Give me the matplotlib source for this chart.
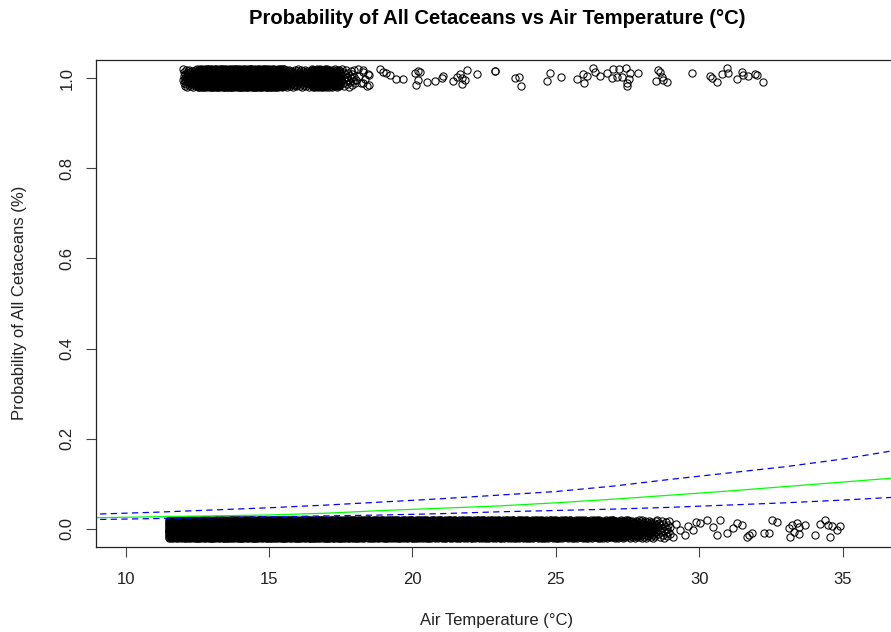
import numpy as np
import matplotlib.pyplot as plt

plt.rcParams['font.family'] = ['Liberation Sans', 'DejaVu Sans']

# Fitted curve and confidence band
curve_temp = [8, 9, 11, 13, 15, 17, 19, 21, 23, 25, 27, 29, 31, 33, 35, 37, 38]
prob_fit = [0.024, 0.025, 0.027, 0.029, 0.031, 0.035, 0.041, 0.046, 0.051,
            0.058, 0.066, 0.075, 0.084, 0.094, 0.104, 0.114, 0.119]
prob_upper = [0.031, 0.033, 0.037, 0.042, 0.047, 0.053, 0.060, 0.067, 0.075,
              0.083, 0.095, 0.110, 0.124, 0.138, 0.155, 0.176, 0.186]
prob_lower = [0.020, 0.021, 0.023, 0.025, 0.027, 0.029, 0.031, 0.034, 0.038,
              0.041, 0.044, 0.048, 0.053, 0.058, 0.064, 0.071, 0.075]

# Dense part of the observations: number of records per 0.5 degC bin
pres_bin_start = [12.0, 12.5, 13.0, 13.5, 14.0, 14.5, 15.0, 15.5, 16.0, 16.5, 17.0, 17.5, 18.0]
pres_bin_count = [50, 260, 280, 280, 280, 280, 240, 55, 45, 160, 90, 25, 8]

abs_bin_start = [11.5, 12.0, 12.5, 13.0, 13.5, 14.0, 14.5, 15.0, 15.5, 16.0, 16.5, 17.0,
                 17.5, 18.0, 18.5, 19.0, 19.5, 20.0, 20.5, 21.0, 21.5, 22.0, 22.5, 23.0,
                 23.5, 24.0, 24.5, 25.0, 25.5, 26.0, 26.5, 27.0, 27.5, 28.0, 28.5]
abs_bin_count = [240, 280, 280, 280, 280, 280, 280, 280, 280, 280, 280, 280,
                 260, 240, 230, 230, 220, 220, 210, 200, 200, 190, 190, 180,
                 170, 160, 160, 150, 140, 130, 120, 100, 70, 45, 25]

# Sparse observations (temperature, jittered response)
pres_temp = [18.28, 18.49, 18.28, 18.49, 18.87, 18.97, 19.08, 19.22, 19.43, 19.67,
             20.09, 20.19, 20.26, 20.13, 20.19, 20.51, 20.79, 21.03, 21.07, 21.42,
             21.56, 21.66, 21.73, 21.91, 21.84, 21.73, 22.26, 22.88, 22.88, 23.58,
             23.72, 23.79, 24.80, 24.70, 25.19, 25.75, 25.96, 25.99, 26.10, 26.31,
             26.38, 26.55, 26.79, 26.97, 27.00, 27.14, 27.21, 27.31, 27.45, 27.49,
             27.49, 27.59, 27.56, 27.87, 28.57, 28.64, 28.71, 28.50, 28.74, 28.88,
             29.75, 30.38, 30.45, 30.62, 30.80, 30.97, 31.01, 31.32, 31.50, 31.53,
             31.71, 31.95, 32.02, 32.23]
pres_resp = [1.018, 1.007, 0.989, 0.984, 1.020, 1.013, 1.011, 1.007, 0.998, 0.998,
             1.011, 1.016, 1.013, 0.984, 0.996, 0.991, 0.993, 1.000, 1.004, 0.993,
             1.002, 1.009, 1.000, 1.018, 0.996, 0.987, 1.009, 1.016, 1.015, 1.000,
             1.002, 0.982, 1.011, 0.993, 1.002, 0.998, 1.009, 0.989, 1.004, 1.022,
             1.013, 1.004, 1.011, 1.000, 1.020, 1.002, 1.020, 1.002, 1.022, 0.989,
             0.982, 1.011, 0.998, 1.011, 1.018, 1.013, 1.002, 0.993, 0.996, 0.991,
             1.011, 1.004, 1.000, 0.991, 1.009, 1.022, 1.011, 0.998, 1.013, 1.007,
             1.004, 1.009, 1.007, 0.991]

abs_temp = [29.08, 29.20, 29.33, 29.50, 29.62, 29.78, 29.90, 30.03, 30.27, 30.48,
            30.73, 30.62, 30.97, 31.18, 31.32, 31.50, 31.67, 31.74, 31.85, 32.27,
            32.44, 32.54, 32.72, 33.14, 33.24, 33.31, 33.42, 33.49, 33.17, 33.49,
            33.70, 34.05, 34.22, 34.39, 34.50, 34.64, 34.81, 34.92, 34.57]
abs_resp = [-0.018, 0.010, -0.002, -0.013, 0.006, -0.002, 0.015, 0.013, 0.020, 0.004,
            0.020, -0.013, -0.009, 0.002, 0.013, 0.009, -0.018, -0.013, -0.009, -0.009,
            -0.009, 0.020, 0.016, 0.002, 0.009, -0.007, 0.013, 0.004, -0.018, -0.011,
            0.009, -0.013, 0.011, 0.020, 0.009, 0.007, -0.002, 0.007, -0.018]


def spread(starts, counts, level):
    # lay the binned records out across each bin, jittered around 0 or 1
    xs, ys = [], []
    for b, n in zip(starts, counts):
        k = np.arange(n)
        xs.append(b + 0.5 * (k + 0.5) / n)
        ys.append(level + 0.04 * ((k * 0.618034 + 0.37) % 1.0) - 0.02)
    return np.concatenate(xs), np.concatenate(ys)


px, py = spread(pres_bin_start, pres_bin_count, 1.0)
ax_, ay_ = spread(abs_bin_start, abs_bin_count, 0.0)

fig = plt.figure(figsize=(8.91, 6.32), dpi=100)
ax = fig.add_axes([95.5 / 891, 85 / 632, (899 - 95.5) / 891, (547 - 60) / 632])

mk = dict(linestyle='none', marker='o', markersize=5.2, markerfacecolor='none',
          markeredgecolor='black', markeredgewidth=0.75)
ax.plot(ax_, ay_, **mk)
ax.plot(px, py, **mk)
ax.plot(abs_temp, abs_resp, **mk)
ax.plot(pres_temp, pres_resp, **mk)

ax.plot(curve_temp, prob_fit, color='#00ff00', lw=0.9)
ax.plot(curve_temp, prob_upper, color='#0000ff', lw=0.9, linestyle=(0, (5, 3.5)))
ax.plot(curve_temp, prob_lower, color='#0000ff', lw=0.9, linestyle=(0, (5, 3.5)))

ax.set_xlim(8.95, 36.97)
ax.set_ylim(-0.04, 1.04)
ax.set_xticks([10, 15, 20, 25, 30, 35])
ax.set_yticks([0.0, 0.2, 0.4, 0.6, 0.8, 1.0])
ax.set_yticklabels(['0.0', '0.2', '0.4', '0.6', '0.8', '1.0'])
ax.tick_params(length=7, width=0.8, color='#444444', labelsize=12, labelcolor='#222222')
ax.tick_params(axis='x', pad=11)
ax.tick_params(axis='y', pad=8)
plt.setp(ax.get_yticklabels(), rotation=90, va='center')
for s in ax.spines.values():
    s.set_linewidth(0.9)
    s.set_color('#222222')

fig.text(497 / 891, 1 - 19 / 632, 'Probability of All Cetaceans vs Air Temperature (°C)',
         ha='center', va='center', fontsize=14.6, fontweight='bold')
fig.text(497 / 891, 1 - 621 / 632, 'Air Temperature (°C)', ha='center', va='center',
         fontsize=12, color='#222222')
fig.text(20 / 891, 1 - 303 / 632, 'Probability of All Cetaceans (%)', ha='center', va='center',
         rotation=90, fontsize=12, color='#222222')

fig.savefig('out.png', dpi=100)
